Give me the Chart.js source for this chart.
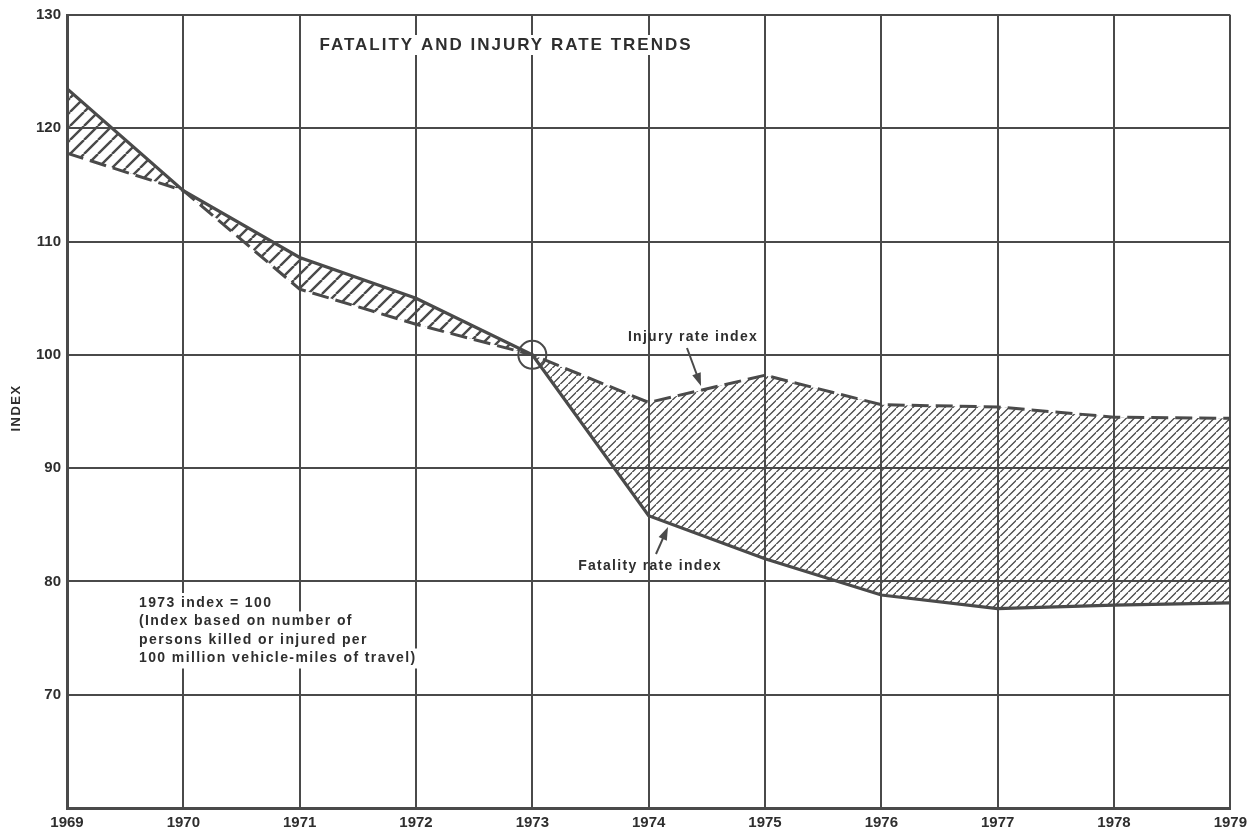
<!DOCTYPE html>
<html>
<head>
<meta charset="utf-8">
<script src="https://cdn.jsdelivr.net/npm/chart.js@4.4.1/dist/chart.umd.min.js"></script>
<style>
  html, body { margin: 0; padding: 0; background: #fff; }
  #wrap { width: 1253px; height: 834px; }
</style>
</head>
<body>
<div id="wrap"><canvas id="rateChart"></canvas></div>
<script>
// values (1973 = 100)
const years = [1969, 1970, 1971, 1972, 1973, 1974, 1975, 1976, 1977, 1978, 1979];
const injuryIndex = [117.8, 114.5, 105.8, 102.7, 100, 95.8, 98.2, 95.6, 95.4, 94.5, 94.4];
const fatalityIndex = [123.5, 114.5, 108.6, 105.0, 100, 85.8, 82.0, 78.8, 77.6, 77.9, 78.1];
const yTicks = [60, 70, 80, 90, 100, 110, 120, 130];

const INK = '#4a4a4a';
const TEXT = '#2e2e2e';
const FONT = '"Liberation Sans", Arial, sans-serif';

// diagonal hatch fill
function hatch(size, width) {
  const c = document.createElement('canvas');
  c.width = c.height = size;
  const g = c.getContext('2d');
  g.strokeStyle = INK;
  g.lineWidth = width;
  g.beginPath();
  for (let k = -1; k <= 1; k++) {
    g.moveTo(k * size, size);
    g.lineTo(k * size + size, 0);
  }
  g.stroke();
  return g.createPattern(c, 'repeat');
}
const coarseHatch = hatch(14, 2.4);
const fineHatch = hatch(8.5, 1.3);

function spacedText(ctx, str, x, y, font, spacing, align, blank) {
  ctx.font = font;
  ctx.letterSpacing = spacing + 'px';
  ctx.textAlign = align || 'left';
  ctx.textBaseline = 'middle';
  if (blank) {
    const w = ctx.measureText(str).width;
    const left = align === 'center' ? x - w / 2 : x;
    ctx.fillStyle = '#fff';
    ctx.fillRect(left - 4, y - 10, w + 8, 20);
  }
  ctx.fillStyle = TEXT;
  ctx.fillText(str, x, y);
  ctx.letterSpacing = '0px';
}

function arrow(ctx, x1, y1, x2, y2) {
  const a = Math.atan2(y2 - y1, x2 - x1);
  ctx.strokeStyle = INK;
  ctx.fillStyle = INK;
  ctx.lineWidth = 2;
  ctx.beginPath();
  ctx.moveTo(x1, y1);
  ctx.lineTo(x2 - 8 * Math.cos(a), y2 - 8 * Math.sin(a));
  ctx.stroke();
  ctx.beginPath();
  ctx.moveTo(x2, y2);
  ctx.lineTo(x2 - 13 * Math.cos(a) + 4.5 * Math.sin(a), y2 - 13 * Math.sin(a) - 4.5 * Math.cos(a));
  ctx.lineTo(x2 - 13 * Math.cos(a) - 4.5 * Math.sin(a), y2 - 13 * Math.sin(a) + 4.5 * Math.cos(a));
  ctx.closePath();
  ctx.fill();
}

const notes = {
  id: 'notes',
  beforeDraw(chart) {
    const ctx = chart.ctx;
    ctx.save();
    ctx.fillStyle = '#fff';
    ctx.fillRect(0, 0, chart.width, chart.height);
    ctx.restore();
  },
  afterDatasetsDraw(chart) {
    const ctx = chart.ctx;
    const xs = chart.scales.x, ys = chart.scales.y;
    ctx.save();

    // base year circle
    ctx.strokeStyle = INK;
    ctx.lineWidth = 2;
    ctx.beginPath();
    ctx.arc(xs.getPixelForValue(1973), ys.getPixelForValue(100), 14, 0, Math.PI * 2);
    ctx.stroke();

    spacedText(ctx, 'FATALITY AND INJURY RATE TRENDS', 506, 45, 'bold 17px ' + FONT, 2, 'center', true);

    // y axis title
    ctx.save();
    ctx.translate(16, 408);
    ctx.rotate(-Math.PI / 2);
    spacedText(ctx, 'INDEX', 0, 0, 'bold 13px ' + FONT, 1.5, 'center');
    ctx.restore();

    // footnote
    const noteLines = ['1973 index = 100', '(Index based on number of',
      'persons killed or injured per', '100 million vehicle-miles of travel)'];
    noteLines.forEach((t, i) => {
      spacedText(ctx, t, 139, 603 + i * 18.5, 'bold 14px ' + FONT, 1.4, 'left', true);
    });

    spacedText(ctx, 'Injury rate index', 693, 337, 'bold 14px ' + FONT, 1.3, 'center');
    arrow(ctx, 687, 348, 701, 386);
    spacedText(ctx, 'Fatality rate index', 650, 566, 'bold 14px ' + FONT, 1.3, 'center');
    arrow(ctx, 656, 554, 668, 527);

    ctx.restore();
  }
};

new Chart(document.getElementById('rateChart'), {
  type: 'line',
  data: {
    datasets: [{
      label: 'Injury rate index',
      data: years.map((yr, i) => ({ x: yr, y: injuryIndex[i] })),
      borderColor: INK,
      borderWidth: 3,
      borderDash: [17, 7],
      pointRadius: 0,
      tension: 0,
      fill: false
    }, {
      label: 'Fatality rate index',
      data: years.map((yr, i) => ({ x: yr, y: fatalityIndex[i] })),
      borderColor: INK,
      borderWidth: 3.2,
      pointRadius: 0,
      tension: 0,
      fill: { target: 0, above: coarseHatch, below: fineHatch }
    }]
  },
  options: {
    responsive: true,
    maintainAspectRatio: false,
    animation: false,
    layout: { padding: { top: 11, right: 20, left: 0, bottom: 0 } },
    plugins: { legend: { display: false }, tooltip: { enabled: false } },
    scales: {
      x: {
        type: 'linear',
        min: 1969,
        max: 1979,
        afterBuildTicks: s => { s.ticks = years.map(v => ({ value: v })); },
        afterFit: s => { s.height = 26; },
        grid: { color: INK, lineWidth: 2, drawTicks: false },
        border: { color: INK, width: 3 },
        ticks: {
          padding: 6,
          color: TEXT,
          font: { family: FONT, size: 15, weight: 'bold' },
          callback: v => String(v)
        }
      },
      y: {
        min: 60,
        max: 130,
        afterBuildTicks: s => { s.ticks = yTicks.map(v => ({ value: v })); },
        afterFit: s => { s.width = 67; },
        grid: { color: INK, lineWidth: 2, drawTicks: false },
        border: { color: INK, width: 3 },
        ticks: {
          padding: 6,
          color: TEXT,
          font: { family: FONT, size: 15, weight: 'bold' },
          callback: v => (v === 60 ? '' : String(v))
        }
      }
    }
  },
  plugins: [notes]
});
</script>
</body>
</html>
